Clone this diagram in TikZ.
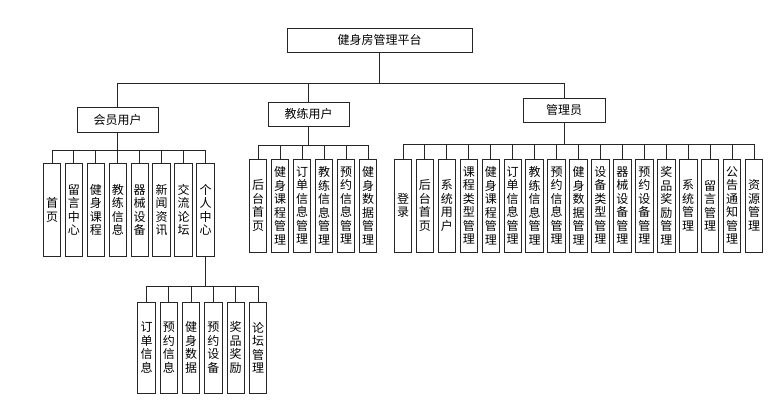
\documentclass[tikz,border=0pt]{standalone}
\usepackage{fontspec}
\setmainfont{Noto Sans CJK SC}
\begin{document}
\begin{tikzpicture}[x=1pt,y=-1pt,
  box/.style={draw=black!85, line width=0.9pt, inner sep=0pt, fill=white,
    font={\fontsize{12}{13.5}\selectfont}},
  leaf/.style={box, minimum width=17.5pt, minimum height=92.5pt, align=center},
  conn/.style={draw=black!85, line width=0.9pt}]
\useasboundingbox (0,0) rectangle (778,403);
% level 0 and 1
\node[box, minimum width=185pt, minimum height=24pt] (root) at (379.5,40) {健身房管理平台};
\node[box, minimum width=81pt, minimum height=25pt] (m) at (117.5,119.5) {会员用户};
\node[box, minimum width=81pt, minimum height=24pt] (c) at (308.5,114) {教练用户};
\node[box, minimum width=82pt, minimum height=24pt] (a) at (564,110) {管理员};
\coordinate (rbus) at (0,83);
\coordinate (mbus) at (0,150);
\coordinate (pbus) at (0,286);
\coordinate (cbus) at (0,145.7);
\coordinate (abus) at (0,144);
\foreach \k in {m,c,a}
  \draw[conn] (root.south) -- (root.south |- rbus) -| (\k.north);
% member children
\foreach \t [count=\i from 0] in {首\\页,留\\言\\中\\心,健\\身\\课\\程,教\\练\\信\\息,器\\械\\设\\备,新\\闻\\资\\讯,交\\流\\论\\坛,个\\人\\中\\心}
  \node[leaf] (m\i) at ({52+21.93*\i},210) {\t};
\foreach \i in {0,...,7}
  \draw[conn] (m.south) -- (m.south |- mbus) -| (m\i.north);
% personal center children
\foreach \t [count=\i from 0] in {订\\单\\信\\息,预\\约\\信\\息,健\\身\\数\\据,预\\约\\设\\备,奖\\品\\奖\\励,论\\坛\\管\\理}
  \node[leaf, minimum height=91pt] (p\i) at ({146.5+22.3*\i},347.5) {\t};
\foreach \i in {0,...,5}
  \draw[conn] (m7.south) -- (m7.south |- pbus) -| (p\i.north);
% coach children
\foreach \t [count=\i from 0] in {后\\台\\首\\页,健\\身\\课\\程\\管\\理,订\\单\\信\\息\\管\\理,教\\练\\信\\息\\管\\理,预\\约\\信\\息\\管\\理,健\\身\\数\\据\\管\\理}
  \node[leaf, minimum height=93pt] (c\i) at ({258+22*\i},205.5) {\t};
\foreach \i in {0,...,5}
  \draw[conn] (c.south) -- (c.south |- cbus) -| (c\i.north);
% admin children
\foreach \t [count=\i from 0] in {登\\录,后\\台\\首\\页,系\\统\\用\\户,课\\程\\类\\型\\管\\理,健\\身\\课\\程\\管\\理,订\\单\\信\\息\\管\\理,教\\练\\信\\息\\管\\理,预\\约\\信\\息\\管\\理,健\\身\\数\\据\\管\\理,设\\备\\类\\型\\管\\理,器\\械\\设\\备\\管\\理,预\\约\\设\\备\\管\\理,奖\\品\\奖\\励\\管\\理,系\\统\\管\\理,留\\言\\管\\理,公\\告\\通\\知\\管\\理,资\\源\\管\\理}
  \node[leaf, minimum height=93pt] (a\i) at ({403+21.94*\i},205.5) {\t};
\foreach \i in {0,...,16}
  \draw[conn] (a.south) -- (a.south |- abus) -| (a\i.north);
\end{tikzpicture}
\end{document}
